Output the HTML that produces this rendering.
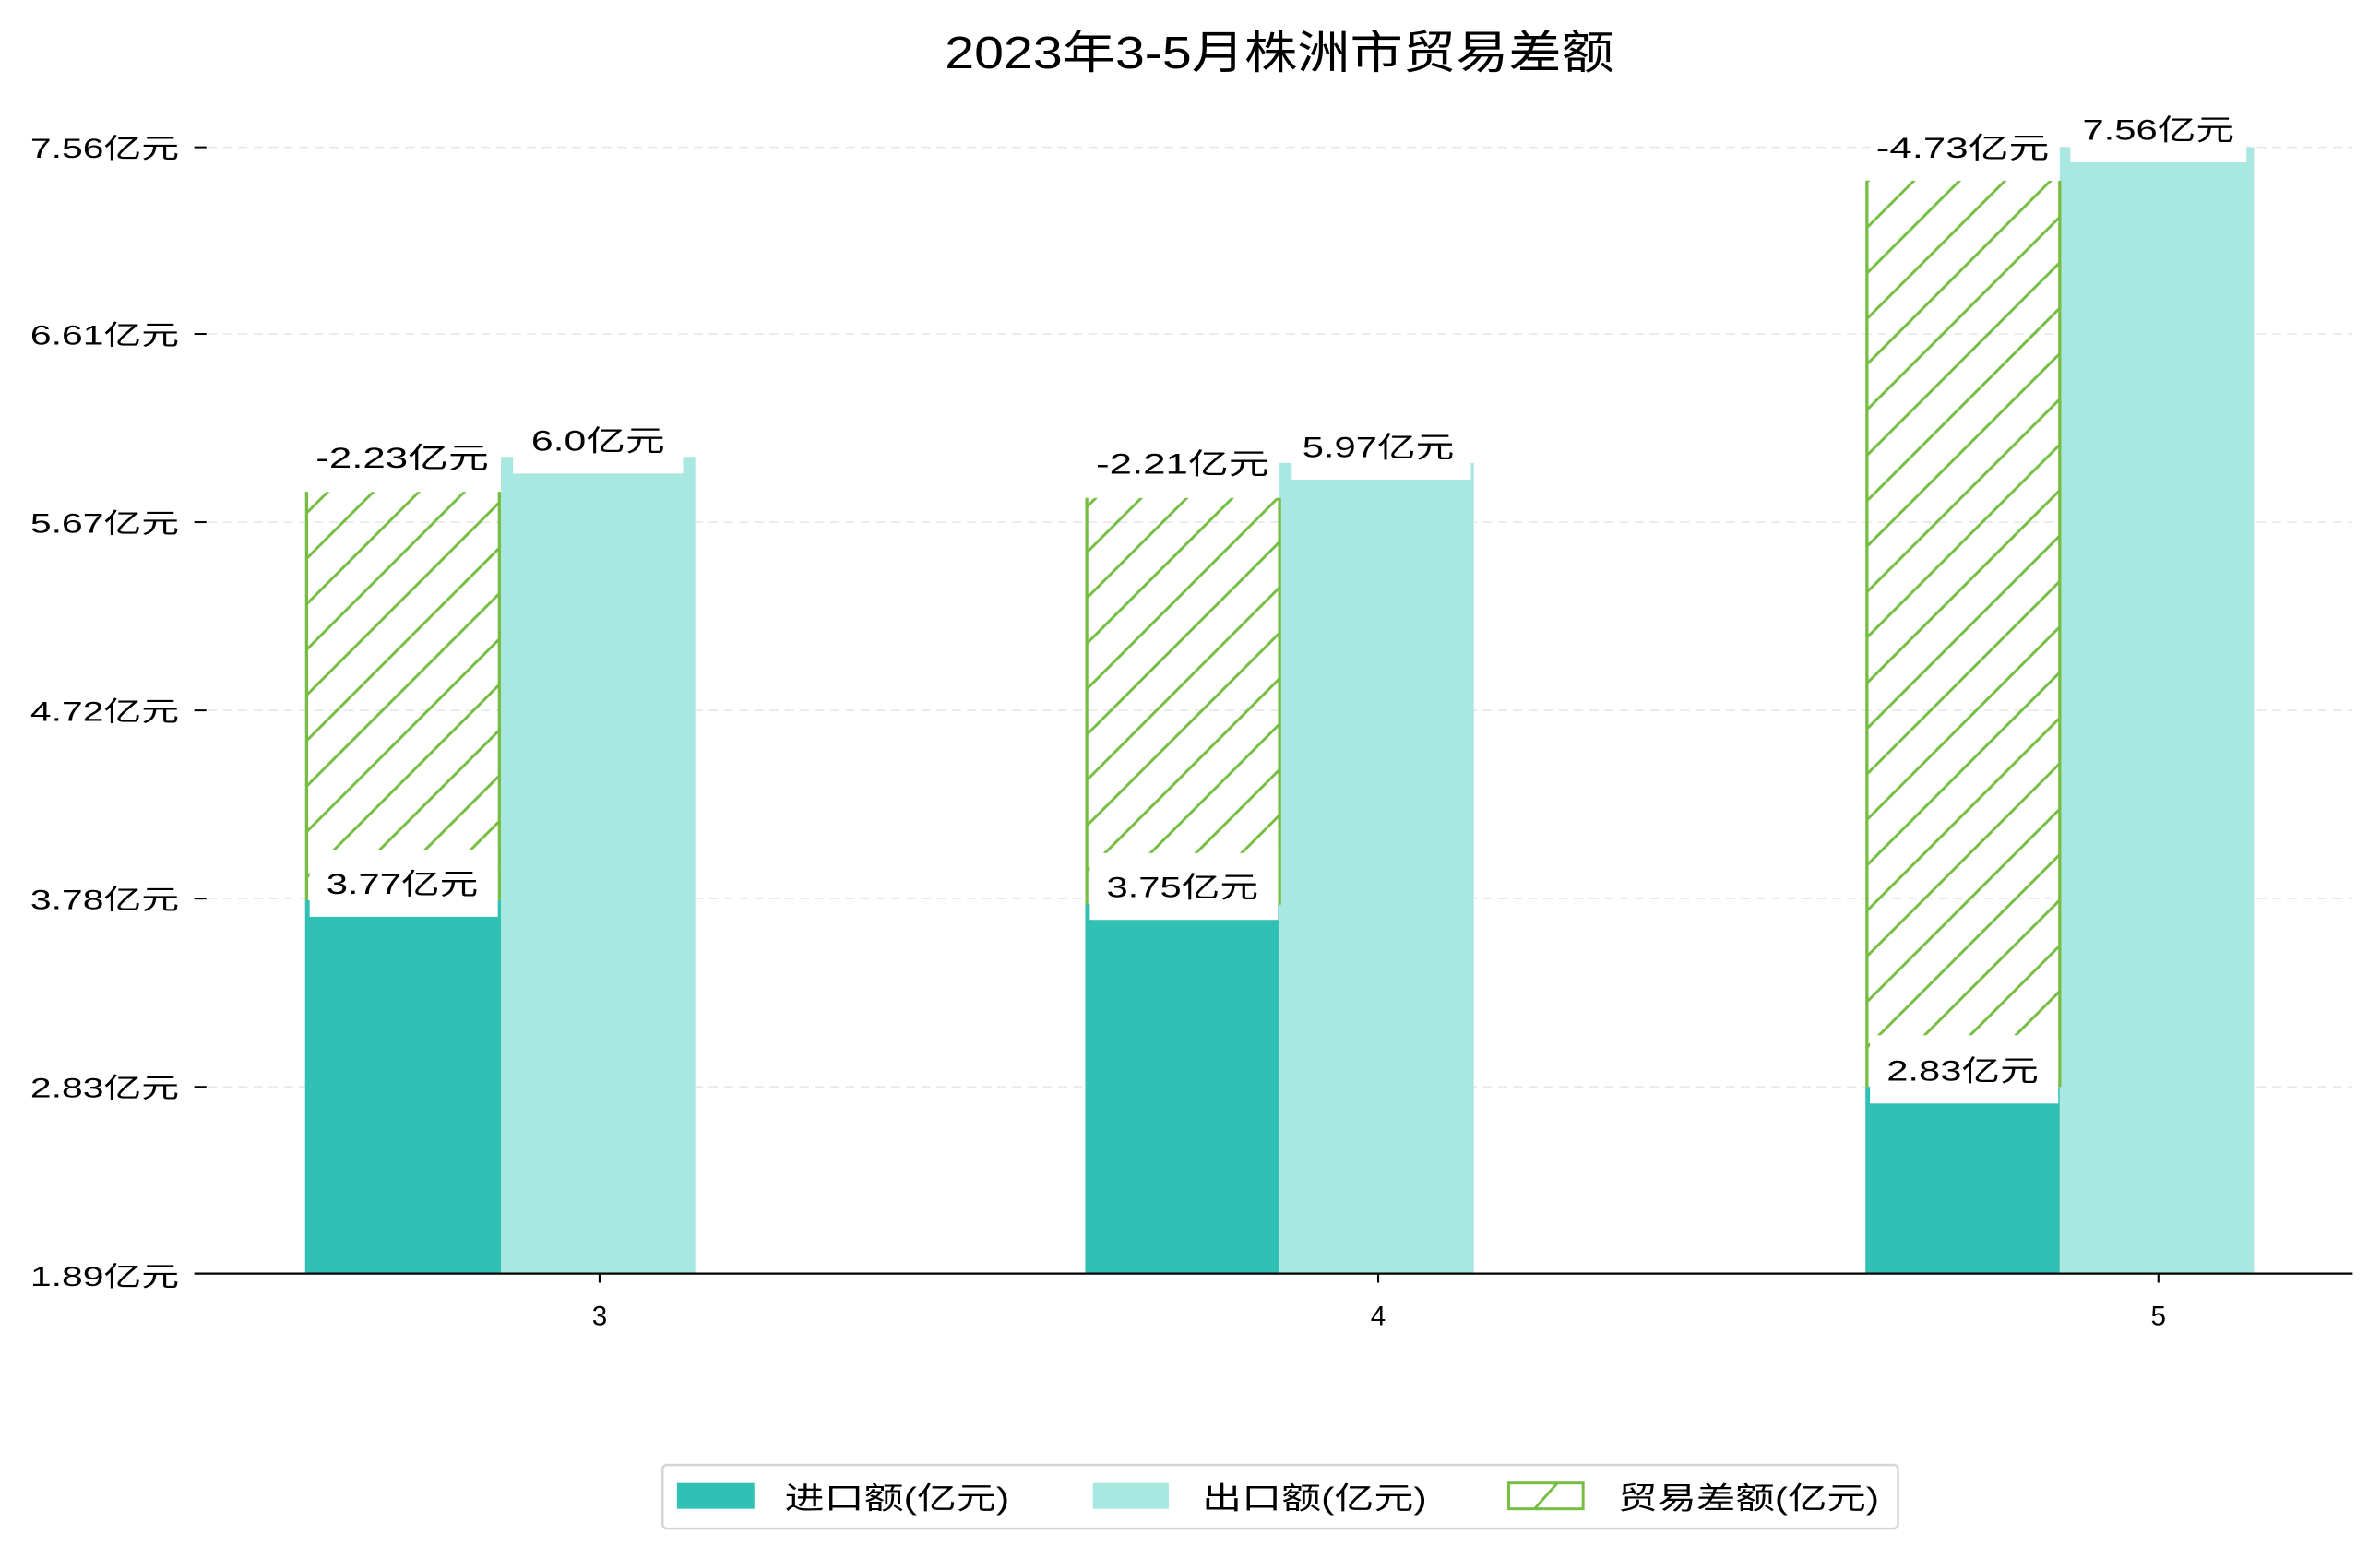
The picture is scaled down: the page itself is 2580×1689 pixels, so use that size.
<!DOCTYPE html>
<html><head><meta charset="utf-8"><style>html,body{margin:0;padding:0;background:#fff}svg{display:block}</style></head><body>
<svg width="2580" height="1689" viewBox="0 0 1568 1026.4" preserveAspectRatio="none" xmlns="http://www.w3.org/2000/svg" font-family="'Liberation Sans','Noto Sans CJK SC',sans-serif">
<defs>
<pattern id="h" patternUnits="userSpaceOnUse" width="30" height="30">
<path d="M-5,5 L5,-5 M0,30 L30,0 M25,35 L35,25" stroke="#76bd43" stroke-width="1.8"/>
</pattern>
</defs>
<rect width="1568" height="1026.4" fill="#fff"/>
<text x="843" y="45" font-size="30" text-anchor="middle" textLength="441" lengthAdjust="spacingAndGlyphs">2023年3-5月株洲市贸易差额</text>
<g stroke="#e8e8e8" stroke-width="1" stroke-dasharray="6,4">
<line x1="137" y1="97" x2="1550" y2="97"/><line x1="137" y1="220" x2="1550" y2="220"/><line x1="137" y1="344" x2="1550" y2="344"/><line x1="137" y1="468" x2="1550" y2="468"/><line x1="137" y1="592" x2="1550" y2="592"/><line x1="137" y1="716" x2="1550" y2="716"/>
</g>
<g stroke="#000" stroke-width="1.2">
<line x1="128" y1="97" x2="136" y2="97"/><line x1="128" y1="220" x2="136" y2="220"/><line x1="128" y1="344" x2="136" y2="344"/><line x1="128" y1="468" x2="136" y2="468"/><line x1="128" y1="592" x2="136" y2="592"/><line x1="128" y1="716" x2="136" y2="716"/>
</g>
<g font-size="18" text-anchor="start">
<text x="20" y="104" textLength="98" lengthAdjust="spacingAndGlyphs">7.56亿元</text>
<text x="20" y="227" textLength="98" lengthAdjust="spacingAndGlyphs">6.61亿元</text>
<text x="20" y="351" textLength="98" lengthAdjust="spacingAndGlyphs">5.67亿元</text>
<text x="20" y="475" textLength="98" lengthAdjust="spacingAndGlyphs">4.72亿元</text>
<text x="20" y="599" textLength="98" lengthAdjust="spacingAndGlyphs">3.78亿元</text>
<text x="20" y="723" textLength="98" lengthAdjust="spacingAndGlyphs">2.83亿元</text>
<text x="20" y="847" textLength="98" lengthAdjust="spacingAndGlyphs">1.89亿元</text>
</g>
<rect x="201" y="593" width="129" height="246" fill="#31c1b4"/>
<rect x="330" y="301" width="128" height="538" fill="#a9e7e1"/>
<rect x="715" y="595.5" width="128" height="243.5" fill="#31c1b4"/>
<rect x="843" y="305" width="128" height="534" fill="#a9e7e1"/>
<rect x="1229" y="716" width="128" height="123" fill="#31c1b4"/>
<rect x="1357" y="97" width="128" height="742" fill="#a9e7e1"/>
<g stroke="#76bd43" stroke-width="2">
<rect x="202" y="324" width="127" height="269" fill="url(#h)" stroke="none"/>
<line x1="202" y1="324" x2="202" y2="593"/><line x1="329" y1="324" x2="329" y2="593"/>
<rect x="716" y="328" width="127" height="268" fill="url(#h)" stroke="none"/>
<line x1="716" y1="328" x2="716" y2="596"/><line x1="843" y1="328" x2="843" y2="596"/>
<rect x="1230" y="119" width="127" height="597" fill="url(#h)" stroke="none"/>
<line x1="1230" y1="119" x2="1230" y2="716"/><line x1="1357" y1="119" x2="1357" y2="716"/>
</g>
<line x1="128" y1="839" x2="1550" y2="839" stroke="#000" stroke-width="1.3"/>
<g stroke="#000" stroke-width="1.3"><line x1="395" y1="839" x2="395" y2="845"/><line x1="908" y1="839" x2="908" y2="845"/><line x1="1422" y1="839" x2="1422" y2="845"/></g>
<g font-size="18" text-anchor="middle"><text x="395" y="873">3</text><text x="908" y="873">4</text><text x="1422" y="873">5</text></g>
<g fill="#fff">
<rect x="204" y="288" width="124" height="36"/><rect x="338" y="278" width="112" height="34"/><rect x="204" y="560" width="124" height="44"/>
<rect x="718" y="292" width="124" height="36"/><rect x="851" y="282" width="118" height="34"/><rect x="718" y="562" width="124" height="44"/>
<rect x="1232" y="84" width="124" height="35"/><rect x="1364" y="72" width="116" height="35"/><rect x="1232" y="682" width="124" height="45"/>
</g>
<g font-size="19" text-anchor="middle">
<text x="265" y="308" textLength="114" lengthAdjust="spacingAndGlyphs">-2.23亿元</text>
<text x="394" y="297" textLength="88" lengthAdjust="spacingAndGlyphs">6.0亿元</text>
<text x="265" y="589" textLength="100" lengthAdjust="spacingAndGlyphs">3.77亿元</text>
<text x="779" y="312" textLength="114" lengthAdjust="spacingAndGlyphs">-2.21亿元</text>
<text x="908" y="301" textLength="100" lengthAdjust="spacingAndGlyphs">5.97亿元</text>
<text x="779" y="591" textLength="100" lengthAdjust="spacingAndGlyphs">3.75亿元</text>
<text x="1293" y="104" textLength="114" lengthAdjust="spacingAndGlyphs">-4.73亿元</text>
<text x="1422" y="92" textLength="100" lengthAdjust="spacingAndGlyphs">7.56亿元</text>
<text x="1293" y="712" textLength="100" lengthAdjust="spacingAndGlyphs">2.83亿元</text>
</g>
<rect x="436.5" y="965" width="814" height="42" rx="3" fill="#fff" stroke="#d4d4d4" stroke-width="1.5"/>
<rect x="446" y="977" width="51" height="17" fill="#31c1b4"/>
<rect x="720" y="977" width="50" height="17" fill="#a9e7e1"/>
<rect x="994" y="977" width="49" height="17" fill="#fff" stroke="#76bd43" stroke-width="1.8"/>
<line x1="1011" y1="994" x2="1026" y2="977" stroke="#76bd43" stroke-width="1.8"/>
<g font-size="20">
<text x="517" y="994" textLength="148" lengthAdjust="spacingAndGlyphs">进口额(亿元)</text>
<text x="792" y="994" textLength="148" lengthAdjust="spacingAndGlyphs">出口额(亿元)</text>
<text x="1066" y="994" textLength="172" lengthAdjust="spacingAndGlyphs">贸易差额(亿元)</text>
</g>
</svg>
</body></html>
